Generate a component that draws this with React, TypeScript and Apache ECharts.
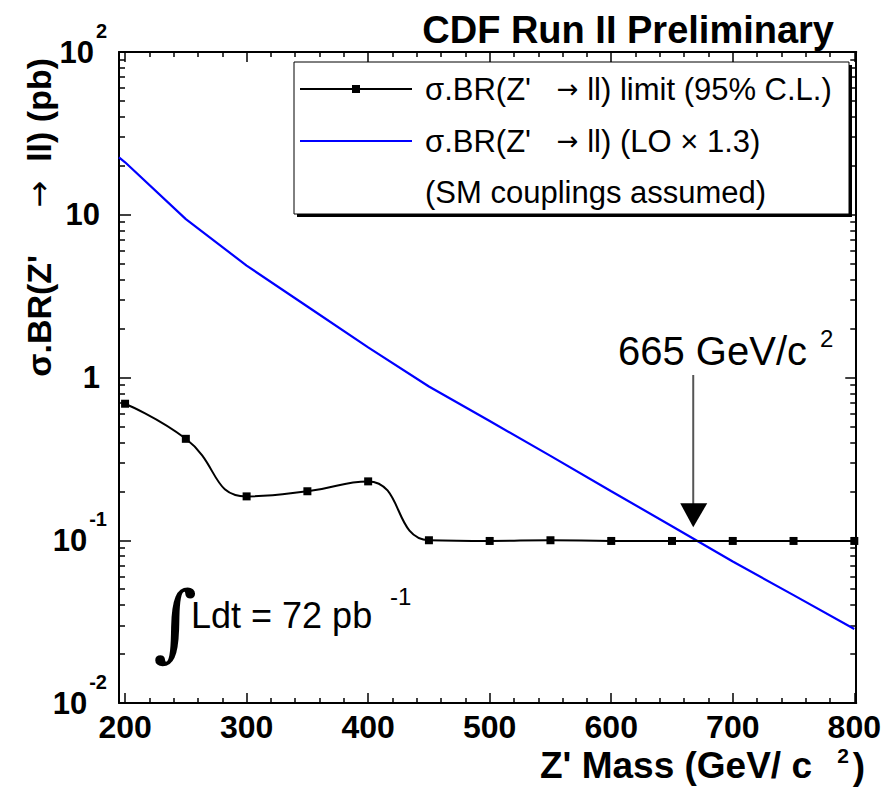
import React, { useEffect, useRef } from "react";
import * as echarts from "echarts";

const FONT = '"Liberation Sans", Arial, Helvetica, sans-serif';
const ARROW_FONT = '"DejaVu Sans", sans-serif';

// Observed 95% C.L. limit on sigma.BR (pb)
const limitMass = [200, 250, 300, 350, 400, 450, 500, 550, 600, 650, 700, 750, 800];
const limitValues = [0.69, 0.42, 0.186, 0.2, 0.23, 0.1, 0.099, 0.1, 0.099, 0.099, 0.099, 0.099, 0.099];

// Theory LO x 1.3 (pb)
const theoryMass = [195, 200, 250, 300, 350, 400, 450, 500, 550, 600, 650, 700, 750, 800];
const theoryValues = [22.5, 21, 9.4, 4.87, 2.73, 1.53, 0.88, 0.54, 0.33, 0.2, 0.122, 0.074, 0.046, 0.0285];

// Axis ticks
const xMajorTicks = [200, 300, 400, 500, 600, 700, 800];
const xMinorTicks = [
  220, 240, 260, 280, 320, 340, 360, 380, 420, 440, 460, 480, 520, 540, 560, 580,
  620, 640, 660, 680, 720, 740, 760, 780,
];
const yMajorTicks = [0.01, 0.1, 1, 10, 100];
const yMinorTicks = [
  0.02, 0.03, 0.04, 0.05, 0.06, 0.07, 0.08, 0.09,
  0.2, 0.3, 0.4, 0.5, 0.6, 0.7, 0.8, 0.9,
  2, 3, 4, 5, 6, 7, 8, 9,
  20, 30, 40, 50, 60, 70, 80, 90,
];
const yLabelText: Record<string, string> = {
  "-2": "{b|10}{s|-2}",
  "-1": "{b|10}{s|-1}",
  "0": "{p|1}",
  "1": "{p|10}",
  "2": "{b|10}{s|2}",
};

const X_MIN = 195;
const X_MAX = 801.6;
const Y_MIN = 0.01;
const Y_MAX = 100;
const LIMIT_MASS = 665;

export default function App() {
  const ref = useRef<HTMLDivElement>(null);

  useEffect(() => {
    if (!ref.current) return;
    const chart = echarts.init(ref.current, null, { renderer: "svg" });

    const baseX = (position: "top" | "bottom", ticks: number[], len: number, showLine: boolean, showLabel: boolean) => ({
      type: "value",
      min: X_MIN,
      max: X_MAX,
      position,
      axisLine: { show: showLine, onZero: false, lineStyle: { color: "#000", width: 2 } },
      axisTick: { show: true, inside: true, length: len, customValues: ticks, lineStyle: { color: "#000", width: 1.5 } },
      axisLabel: showLabel
        ? {
            show: true,
            customValues: xMajorTicks,
            margin: 8,
            color: "#000",
            fontFamily: FONT,
            fontWeight: "bold",
            fontSize: 32,
            lineHeight: 32,
          }
        : { show: false },
      splitLine: { show: false },
    });

    const baseY = (position: "left" | "right", ticks: number[], len: number, showLine: boolean, showLabel: boolean) => ({
      type: "log",
      logBase: 10,
      min: Y_MIN,
      max: Y_MAX,
      position,
      axisLine: { show: showLine, onZero: false, lineStyle: { color: "#000", width: 2 } },
      axisTick: { show: true, inside: true, length: len, customValues: ticks, lineStyle: { color: "#000", width: 1.5 } },
      axisLabel: showLabel
        ? {
            show: true,
            customValues: yMajorTicks,
            margin: 12,
            color: "#000",
            formatter: (v: number) => yLabelText[String(Math.round(Math.log10(v)))] || "",
            rich: {
              b: { fontFamily: FONT, fontWeight: "bold", fontSize: 31, color: "#000", lineHeight: 62 },
              p: { fontFamily: FONT, fontWeight: "bold", fontSize: 31, color: "#000", padding: [0, 7, 0, 0] },
              s: { fontFamily: FONT, fontWeight: "bold", fontSize: 20, color: "#000", verticalAlign: "top", padding: [0, 0, 0, 2] },
            },
          }
        : { show: false },
      splitLine: { show: false },
      minorTick: { show: false },
    });

    const option: any = {
      animation: false,
      backgroundColor: "#fff",
      grid: { left: 119, right: 27, top: 52, bottom: 84, containLabel: false },
      xAxis: [
        baseX("bottom", xMajorTicks, 10, true, true),
        baseX("bottom", xMinorTicks, 5, false, false),
        baseX("top", xMajorTicks, 10, true, false),
        baseX("top", xMinorTicks, 5, false, false),
      ],
      yAxis: [
        baseY("left", yMajorTicks, 12, true, true),
        baseY("left", yMinorTicks, 6, false, false),
        baseY("right", yMajorTicks, 11, true, false),
        baseY("right", yMinorTicks, 6, false, false),
      ],
      series: [
        {
          type: "line",
          name: "theory",
          xAxisIndex: 0,
          yAxisIndex: 0,
          data: theoryMass.map((m, i) => [m, theoryValues[i]]),
          showSymbol: false,
          symbol: "none",
          lineStyle: { color: "#0000ff", width: 2.2 },
          clip: true,
          z: 3,
        },
        {
          type: "line",
          name: "limit",
          xAxisIndex: 0,
          yAxisIndex: 0,
          data: limitMass.map((m, i) => [m, limitValues[i]]),
          smooth: 0.5,
          symbol: "rect",
          symbolSize: 8,
          itemStyle: { color: "#000" },
          lineStyle: { color: "#000", width: 2 },
          clip: false,
          z: 4,
        },
      ],
    };

    chart.setOption(option);

    const tip = chart.convertToPixel({ xAxisIndex: 0, yAxisIndex: 0 }, [LIMIT_MASS, 0.1]) as number[];
    const ax = tip[0] + 3;
    const ay = tip[1] - 13;

    const legendX = 294;
    const legendY = 62;
    const legendW = 555;
    const legendH = 152;
    const rows = [89, 141, 192];

    const legendRich = {
      m: { fontFamily: FONT, fontSize: 31, fill: "#000" },
      a: { fontFamily: ARROW_FONT, fontSize: 26, fill: "#000" },
    };

    chart.setOption({
      graphic: [
        // Title
        {
          type: "text",
          x: 834,
          y: 30,
          style: { text: "CDF Run II Preliminary", font: `bold 38px ${FONT}`, fill: "#000", align: "right", verticalAlign: "middle" },
        },
        // Y axis title
        {
          type: "text",
          x: 39,
          y: 58,
          rotation: Math.PI / 2,
          style: {
            text: "{m|σ.BR(Z'     }{a|→}{m|  ll) (pb)}",
            align: "right",
            verticalAlign: "middle",
            rich: {
              m: { fontFamily: FONT, fontWeight: "bold", fontSize: 34, fill: "#000" },
              a: { fontFamily: ARROW_FONT, fontSize: 32, fill: "#000" },
            },
          },
        },
        // X axis title
        {
          type: "text",
          x: 812,
          y: 765,
          style: { text: "Z' Mass (GeV/ c", font: `bold 37px ${FONT}`, fill: "#000", align: "right", verticalAlign: "middle" },
        },
        {
          type: "text",
          x: 843,
          y: 755,
          style: { text: "2", font: `bold 21px ${FONT}`, fill: "#000", align: "center", verticalAlign: "middle" },
        },
        {
          type: "text",
          x: 859,
          y: 766,
          style: { text: ")", font: `bold 37px ${FONT}`, fill: "#000", align: "center", verticalAlign: "middle" },
        },
        // Legend box with shadow
        { type: "rect", shape: { x: legendX + 3, y: legendY + 3, width: legendW, height: legendH }, style: { fill: "#000" }, z: 10 },
        { type: "rect", shape: { x: legendX, y: legendY, width: legendW, height: legendH }, style: { fill: "#fff", stroke: "#000", lineWidth: 1 }, z: 11 },
        { type: "line", shape: { x1: 300, y1: rows[0], x2: 412, y2: rows[0] }, style: { stroke: "#000", lineWidth: 2 }, z: 12 },
        { type: "rect", shape: { x: 352, y: rows[0] - 4, width: 8, height: 8 }, style: { fill: "#000" }, z: 12 },
        { type: "line", shape: { x1: 300, y1: rows[1], x2: 412, y2: rows[1] }, style: { stroke: "#0000ff", lineWidth: 2 }, z: 12 },
        {
          type: "text", x: 425, y: rows[0], z: 12,
          style: { text: "{m|σ.BR(Z'   }{a|→}{m| ll) limit (95% C.L.)}", rich: legendRich, align: "left", verticalAlign: "middle" },
        },
        {
          type: "text", x: 425, y: rows[1], z: 12,
          style: { text: "{m|σ.BR(Z'   }{a|→}{m| ll) (LO × 1.3)}", rich: legendRich, align: "left", verticalAlign: "middle" },
        },
        {
          type: "text", x: 425, y: rows[2], z: 12,
          style: { text: "(SM couplings assumed)", font: `31px ${FONT}`, fill: "#000", align: "left", verticalAlign: "middle" },
        },
        // Mass limit annotation
        {
          type: "text", x: 618, y: 351,
          style: { text: "665 GeV/c", font: `40px ${FONT}`, fill: "#000", align: "left", verticalAlign: "middle" },
        },
        {
          type: "text", x: 820, y: 338,
          style: { text: "2", font: `24px ${FONT}`, fill: "#000", align: "left", verticalAlign: "middle" },
        },
        { type: "line", shape: { x1: ax, y1: 375, x2: ax, y2: ay - 22 }, style: { stroke: "#555", lineWidth: 2 }, z: 6 },
        {
          type: "polygon",
          shape: { points: [[ax - 13, ay - 24], [ax + 14, ay - 24], [ax, ay]] },
          style: { fill: "#000" },
          z: 6,
        },
        // Luminosity
        {
          type: "text", x: 175, y: 622,
          style: { text: "∫", font: `84px "DejaVu Serif", serif`, fill: "#000", align: "center", verticalAlign: "middle" },
        },
        {
          type: "text", x: 191, y: 615,
          style: { text: "Ldt = 72 pb", font: `36px ${FONT}`, fill: "#000", align: "left", verticalAlign: "middle" },
        },
        {
          type: "text", x: 390, y: 596,
          style: { text: "-1", font: `24px ${FONT}`, fill: "#000", align: "left", verticalAlign: "middle" },
        },
      ],
    });

    return () => {
      chart.dispose();
    };
  }, []);

  return (
    <div
      ref={ref}
      style={{ position: "absolute", left: 0, top: 0, width: 884, height: 787, background: "#fff" }}
    />
  );
}
